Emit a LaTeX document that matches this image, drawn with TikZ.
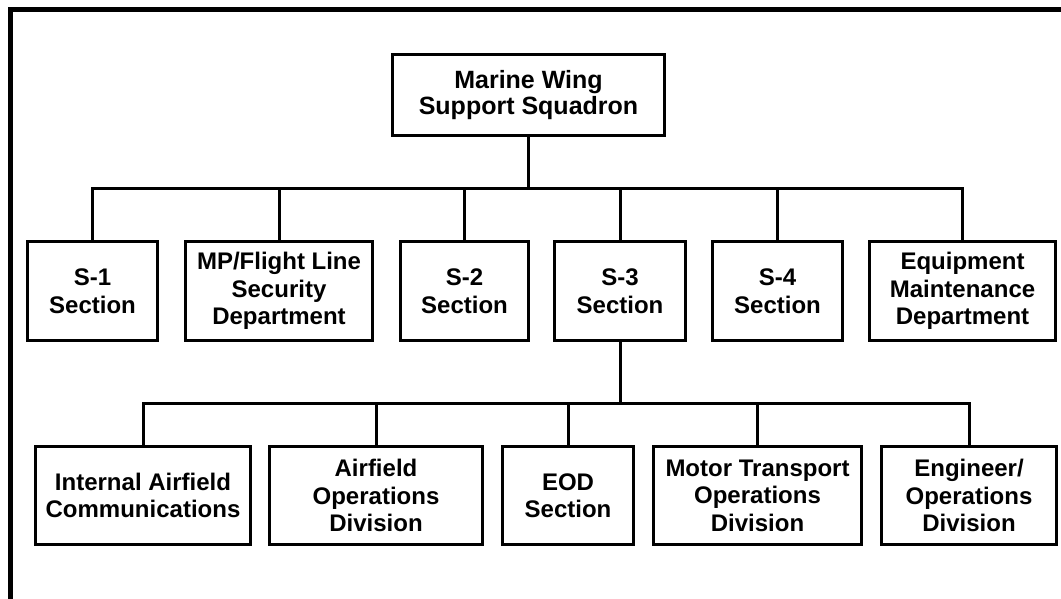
\documentclass[tikz,border=0pt]{standalone}
\usepackage{fontspec}
\setmainfont{Liberation Sans}
\usepackage{tikz}
\usetikzlibrary{positioning}
\tikzstyle{unit}=[rectangle,draw,line width=3pt,align=center,inner sep=0pt,font=\bfseries\fontsize{24}{27.5}\selectfont]
\tikzstyle{headunit}=[unit,font=\bfseries\fontsize{25}{26}\selectfont]
\tikzstyle{link} = [draw,line width=3pt]
\tikzstyle{frame} = [draw,line width=4.5pt]

\begin{document}
\begin{tikzpicture}[x=1pt,y=-1pt]

    \useasboundingbox (0,0) rectangle (1061,598);
	\def\ya{95}; 
	\def\yb{291}; 
	\def\yc{495.5};
	\def\hb{99};
	\def\hc{98};

    \draw[frame] (10.5,620) -- (10.5,9.5) -- (1080,9.5);

%layer 1
    \node[headunit,minimum width=272,minimum height=81] (MWSS) at (528.5,\ya) {Marine Wing\\Support Squadron};
%layer 2
    \foreach \pos/\name/\w/\label in {{(92.5,\yb)/S1/130/{S-1\\Section}}, {(279,\yb)/MP/187/{MP/Flight Line\\Security\\Department}}, {(464.5,\yb)/S2/128/{S-2\\Section}}, {(620,\yb)/S3/131/{S-3\\Section}}, {(777.5,\yb)/S4/130/{S-4\\Section}}, {(962.5,\yb)/EM/186/{Equipment\\Maintenance\\Department}}}
        \node[unit,minimum width=\w,minimum height=\hb] (\name) at \pos {\label};
%layer 3
    \foreach \pos/\name/\w/\label in {{(143,\yc)/IAC/215/{Internal Airfield\\Communications}}, {(376,\yc)/AOD/213/{Airfield\\Operations\\Division}}, {(568,\yc)/EOD/131/{EOD\\Section}}, {(757.5,\yc)/MTO/208/{Motor Transport\\Operations\\Division}}, {(969,\yc)/EOP/175/{Engineer/\\Operations\\Division}}}
        \node[unit,minimum width=\w,minimum height=\hc] (\name) at \pos {\label};

    % Connect units through the two bus lines
    \coordinate (busA) at (0,188);
    \coordinate (busB) at (0,403);
  	\foreach \dest in {S1,MP,S2,S3,S4,EM}
		\path[link] (MWSS.south) -- (MWSS.south |- busA) -| (\dest.north);
	\foreach \dest in {IAC,AOD,EOD,MTO,EOP}
		\path[link] (S3.south) -- (S3.south |- busB) -| (\dest.north);

\end{tikzpicture}
\end{document}
